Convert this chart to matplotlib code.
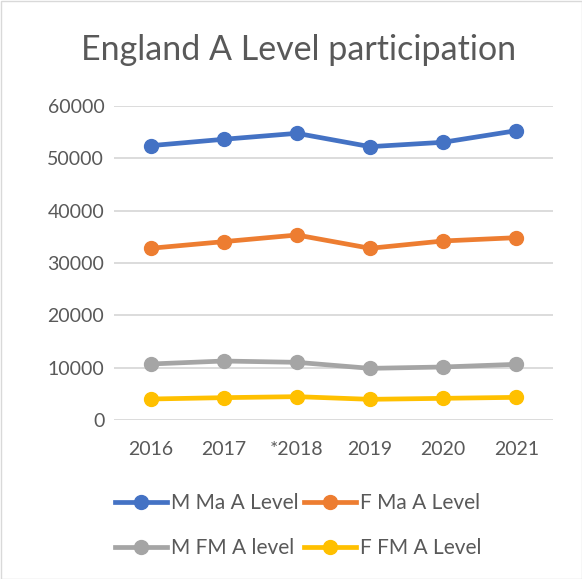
import matplotlib
matplotlib.use("Agg")
import matplotlib.pyplot as plt
from matplotlib.lines import Line2D
from matplotlib.patches import Rectangle

years = ["2016", "2017", "*2018", "2019", "2020", "2021"]
m_ma = [52420, 53640, 54780, 52230, 53070, 55290]
f_ma = [32810, 34080, 35350, 32810, 34210, 34840]
m_fm = [10700, 11270, 11020, 9870, 10130, 10640]
f_fm = [4010, 4270, 4460, 3950, 4140, 4330]
series_names = ["M Ma A Level", "F Ma A Level", "M FM A level", "F FM A Level"]
colors = ["#4472C4", "#ED7D31", "#A5A5A5", "#FFC000"]
yticks = [0, 10000, 20000, 30000, 40000, 50000, 60000]

plt.rcParams['font.family'] = ['Lato', 'DejaVu Sans']
txt = "#595959"

fig = plt.figure(figsize=(5.82, 5.79), dpi=100)
ax = fig.add_axes([114/582, 1-420/579, (553-114)/582, (420-106)/579])

x = list(range(len(years)))
for vals, c in zip([m_ma, f_ma, m_fm, f_fm], colors):
    ax.plot(x, vals, color=c, lw=3.4, marker='o', markersize=10, solid_capstyle='round', zorder=3)

ax.set_xlim(-0.5, 5.5)
ax.set_ylim(0, 60000)
ax.set_yticks(yticks)
ax.set_yticklabels([str(v) for v in yticks])
ax.set_xticks(x)
ax.set_xticklabels(years)
ax.grid(axis='y', color='#D9D9D9', lw=1.3)
ax.set_axisbelow(True)
for s in ax.spines.values():
    s.set_visible(False)
ax.tick_params(axis='both', length=0, labelsize=14, colors=txt)
ax.tick_params(axis='x', pad=15)
ax.tick_params(axis='y', pad=7)

fig.text(299/582, 1-50/579, "England A Level participation", ha='center', va='center', fontsize=24.5, color=txt)

handles = [Line2D([0], [0], color=c, lw=3.4, marker='o', markersize=10) for c in colors]
order = [0, 2, 1, 3]
leg = fig.legend([handles[i] for i in order], [series_names[i] for i in order], loc='center',
                 bbox_to_anchor=(298/582, 1-525.5/579), ncol=2,
                 frameon=False, fontsize=15, labelcolor=txt, handlelength=2.5, handletextpad=0.2,
                 columnspacing=0.25, labelspacing=1.2)

fig.patches.append(Rectangle((0.5/582, 0.5/579), 1-1/582, 1-1/579, transform=fig.transFigure,
                             fill=False, edgecolor='#D9D9D9', lw=1))

fig.savefig("out.png", dpi=100, facecolor='white')
